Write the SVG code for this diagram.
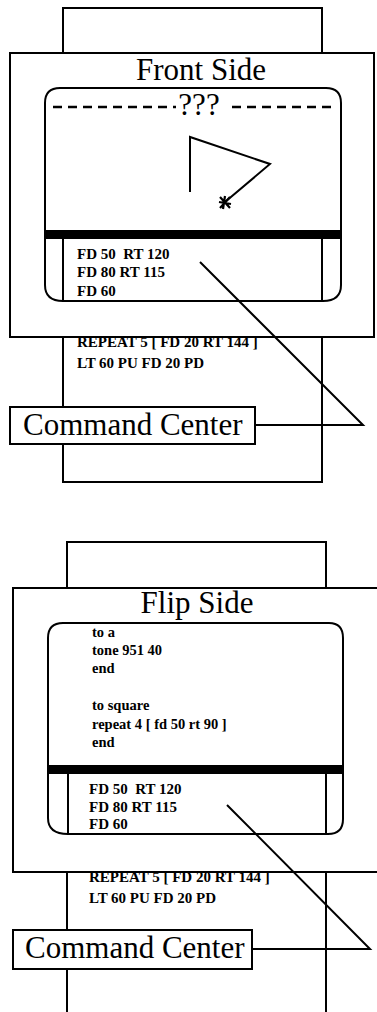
<svg xmlns="http://www.w3.org/2000/svg" width="377" height="1012" viewBox="0 0 377 1012">
<style>
.ln{fill:none;stroke:#000;stroke-width:2}
.box{fill:#fff;stroke:#000;stroke-width:2}
.title{font-family:"Liberation Serif",serif;font-size:31px;fill:#000}
.cmd{font-family:"Liberation Serif",serif;font-size:15px;font-weight:bold;fill:#000;white-space:pre}
.proc{font-family:"Liberation Serif",serif;font-size:14.5px;font-weight:bold;fill:#000}
.cc{font-family:"Liberation Serif",serif;font-size:31px;fill:#000}
</style>
<rect width="377" height="1012" fill="#fff"/>

<g id="front">
  <rect class="box" x="63" y="8" width="259" height="474"/>
  <text class="cmd" x="77" y="347">REPEAT 5 [ FD 20 RT 144 ]</text>
  <text class="cmd" x="77" y="368">LT 60 PU FD 20 PD</text>
  <rect class="box" x="10" y="53" width="364" height="284"/>
  <text class="title" x="201" y="80" text-anchor="middle">Front Side</text>
  <path class="box" d="M60,88 L326,88 Q341,88 341,103 L341,285 Q341,301 323,301 L63,301 Q45,301 45,285 L45,103 Q45,88 60,88 Z"/>
  <line x1="53" y1="107" x2="176" y2="107" stroke="#000" stroke-width="2.5" stroke-dasharray="9,6"/>
  <line x1="232" y1="107" x2="333" y2="107" stroke="#000" stroke-width="2.5" stroke-dasharray="9,6"/>
  <text class="title" x="199" y="115" text-anchor="middle" font-size="28">???</text>
  <polyline class="ln" points="190,192 190,137 270,164 225,202"/>
  <path d="M219,202 L231,204 M225,196 L223,209 M220,197 L230,208 M230,197 L220,208" stroke="#000" stroke-width="2.2" fill="none"/>
  <rect x="45" y="230" width="296" height="9" fill="#000"/>
  <line class="ln" x1="63" y1="239" x2="63" y2="301"/>
  <line class="ln" x1="322" y1="239" x2="322" y2="301"/>
  <text class="cmd" x="77" y="259" xml:space="preserve">FD 50  RT 120</text>
  <text class="cmd" x="77" y="277">FD 80 RT 115</text>
  <text class="cmd" x="77" y="296">FD 60</text>
</g>

<g id="front-command-center">
  <rect class="box" x="10" y="407" width="245" height="37"/>
  <text class="cc" x="23" y="435">Command Center</text>
</g>

<g id="flip">
  <rect class="box" x="67" y="542" width="259" height="480"/>
  <text class="cmd" x="89" y="882">REPEAT 5 [ FD 20 RT 144 ]</text>
  <text class="cmd" x="89" y="903">LT 60 PU FD 20 PD</text>
  <rect class="box" x="13" y="588" width="370" height="284"/>
  <text class="title" x="197" y="613" text-anchor="middle">Flip Side</text>
  <path class="box" d="M63,623 L329,623 Q343,623 343,638 L343,819 Q343,834 328,834 L68,834 Q48,834 48,818 L48,638 Q48,623 63,623 Z"/>
  <text class="proc" x="92" y="637">to a</text>
  <text class="proc" x="92" y="655">tone 951 40</text>
  <text class="proc" x="92" y="673">end</text>
  <text class="proc" x="92" y="710">to square</text>
  <text class="proc" x="92" y="729">repeat 4 [ fd 50 rt 90 ]</text>
  <text class="proc" x="92" y="747">end</text>
  <rect x="48" y="765" width="295" height="9" fill="#000"/>
  <line class="ln" x1="68" y1="774" x2="68" y2="834"/>
  <line class="ln" x1="326" y1="774" x2="326" y2="834"/>
  <text class="cmd" x="89" y="794" xml:space="preserve">FD 50  RT 120</text>
  <text class="cmd" x="89" y="812">FD 80 RT 115</text>
  <text class="cmd" x="89" y="829">FD 60</text>
</g>

<g id="flip-command-center">
  <rect class="box" x="13" y="930" width="239" height="39"/>
  <text class="cc" x="25" y="958">Command Center</text>
</g>

<g id="connectors">
  <polyline class="ln" points="255,425 363,425 200,262"/>
  <polyline class="ln" points="252,949 370,949 227,805"/>
</g>
</svg>
